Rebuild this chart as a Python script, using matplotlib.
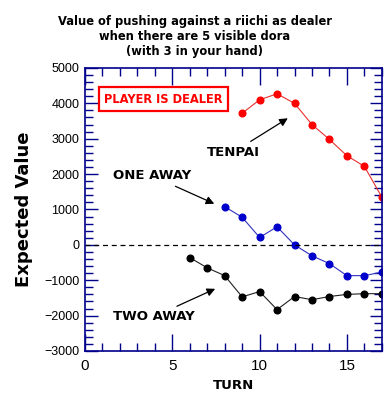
import matplotlib
matplotlib.use('Agg')
import matplotlib.pyplot as plt
from matplotlib.ticker import MultipleLocator

# data
tenpai_turns = [9, 10, 11, 12, 13, 14, 15, 16, 17]
tenpai_ev = [3720, 4100, 4270, 4000, 3400, 2980, 2520, 2220, 1350]

one_away_turns = [8, 9, 10, 11, 12, 13, 14, 15, 16, 17]
one_away_ev = [1080, 780, 210, 510, 0, -310, -530, -870, -870, -770]

two_away_turns = [6, 7, 8, 9, 10, 11, 12, 13, 14, 15, 16, 17]
two_away_ev = [-360, -650, -870, -1470, -1320, -1830, -1460, -1550, -1460, -1400, -1380, -1380]

title = 'Value of pushing against a riichi as dealer\nwhen there are 5 visible dora\n(with 3 in your hand)'
navy = '#00008b'

fig = plt.figure(figsize=(3.9, 4.07), dpi=100)
ax = fig.add_axes([0.218, 0.1376, 0.761, 0.6954])

ax.plot(tenpai_turns, tenpai_ev, color='#e83030', lw=0.8, marker='o', ms=4.8,
        mfc='#ff0000', mec='#ff0000')
ax.plot(one_away_turns, one_away_ev, color='#3030c0', lw=0.8, marker='o', ms=4.8,
        mfc='#0000cc', mec='#0000cc')
ax.plot(two_away_turns, two_away_ev, color='#202020', lw=0.8, marker='o', ms=4.8,
        mfc='black', mec='black')
ax.axhline(0, color='black', lw=0.9, ls=(0, (4, 3)))

ax.set_xlim(0, 17)
ax.set_ylim(-3000, 5000)
ax.xaxis.set_major_locator(MultipleLocator(5))
ax.xaxis.set_minor_locator(MultipleLocator(1))
ax.yaxis.set_major_locator(MultipleLocator(1000))
ax.yaxis.set_minor_locator(MultipleLocator(200))
ax.tick_params(which='both', direction='in', top=True, right=True, color=navy, width=1)
ax.tick_params(axis='x', which='major', length=12, labelsize=11, pad=6)
ax.tick_params(axis='x', which='minor', length=6)
ax.tick_params(axis='y', which='major', length=9, labelsize=9, pad=4)
ax.tick_params(axis='y', which='minor', length=6)
for lab in ax.get_xticklabels() + ax.get_yticklabels():
    lab.set_family('Liberation Sans')
for s in ax.spines.values():
    s.set_color(navy)
    s.set_linewidth(1.2)

ax.set_xlabel('TURN', fontsize=9.5, fontweight='bold', labelpad=4)
ax.set_ylabel('Expected Value', fontsize=13, fontweight='bold', labelpad=8)
fig.suptitle(title, fontsize=8.3, fontweight='bold', y=0.962, linespacing=1.2)

ax.text(4.5, 4120, 'PLAYER IS DEALER', color='red', fontsize=8.3, fontweight='bold',
        ha='center', va='center',
        bbox=dict(boxstyle='square,pad=0.45', fc='white', ec='red', lw=1.6))

arrow = dict(arrowstyle='-|>', color='black', lw=0.9, mutation_scale=12)
ax.annotate('TENPAI', xy=(11.75, 3620), xytext=(8.5, 2620), fontsize=9.5,
            fontweight='bold', ha='center', va='center', arrowprops=arrow)
ax.annotate('ONE AWAY', xy=(7.55, 1130), xytext=(3.85, 1950), fontsize=9.5,
            fontweight='bold', ha='center', va='center', arrowprops=arrow)
ax.annotate('TWO AWAY', xy=(7.6, -1210), xytext=(3.95, -2030), fontsize=9.5,
            fontweight='bold', ha='center', va='center', arrowprops=arrow)

fig.savefig('out.png', dpi=100)
